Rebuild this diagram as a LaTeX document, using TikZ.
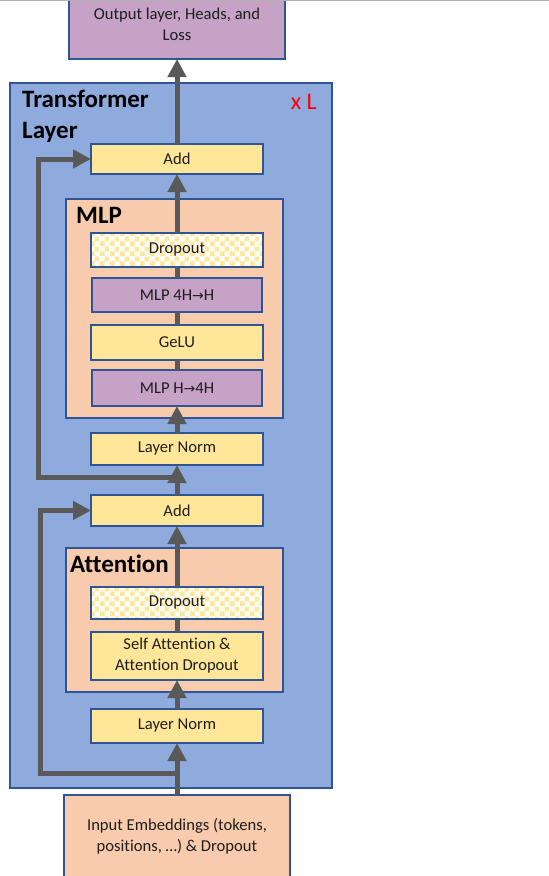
\documentclass[tikz,border=0pt]{standalone}
\usepackage{fontspec}
\setmainfont{Carlito}[Ligatures=CommonOff]
\newfontfamily\arrowfont{DejaVu Sans}
\usetikzlibrary{arrows.meta,positioning,fit,calc,backgrounds,patterns.meta}
\definecolor{layer}{HTML}{8FAADC}
\definecolor{edge}{HTML}{2F5597}
\definecolor{peach}{HTML}{F8CBAD}
\definecolor{sand}{HTML}{FFE699}
\definecolor{mauve}{HTML}{C5A2C6}
\definecolor{ink}{HTML}{1E1E1E}
\definecolor{pipe}{HTML}{595959}
\definecolor{xred}{HTML}{FF0000}
\tikzdeclarepattern{
  name=checker,
  tile size={(10pt,10pt)},
  bounding box={(0pt,0pt) and (10pt,10pt)},
  code={\fill (0pt,0pt) rectangle (5pt,5pt) (5pt,5pt) rectangle (10pt,10pt);}
}
\newcommand{\toarrow}{{\arrowfont\fontsize{14}{14}\selectfont →}}
\tikzset{
  every node/.style={text=ink,font=\fontsize{16.6}{21}\selectfont},
  plain/.style={draw=edge,line width=1.8pt,outer sep=0pt,minimum width=172pt,minimum height=32pt,align=center,inner sep=2pt},
  box/.style={plain,fill=sand},
  mlpbox/.style={plain,fill=mauve,minimum width=170pt},
  dropbox/.style={plain,preaction={fill=white},pattern=checker,pattern color=sand},
  group/.style={draw=edge,line width=1.8pt,outer sep=0pt,fill=peach,inner sep=0pt},
  title/.style={font=\fontsize{25}{31}\selectfont\bfseries,text=black,inner sep=0pt,align=left},
  flow/.style={-{Triangle[length=18pt,width=18pt]},line width=5pt,draw=pipe},
  link/.style={line width=5pt,draw=pipe},
}

\begin{document}
\begin{tikzpicture}[x=1pt,y=1pt]
\useasboundingbox (0,0) rectangle (549,-876);

% input and attention block
\node[box,fill=peach,minimum width=226pt,minimum height=82pt] (inp) at (177,-836) {Input Embeddings (tokens,\\ positions, …) \& Dropout};
\node[box,minimum height=34pt,above=52pt of inp] (lnBot) {Layer Norm};
\node[box,minimum height=48pt,inner ysep=0pt,above=29pt of lnBot] (sa) {Self Attention \&\\ Attention Dropout};
\node[dropbox,above=13pt of sa] (dropA) {Dropout};
\node[box,minimum height=31pt,above=61pt of dropA] (addBot) {Add};

% mlp block
\node[box,above=30pt of addBot] (lnTop) {Layer Norm};
\node[mlpbox,minimum height=36pt,above=27pt of lnTop] (up) {MLP H\toarrow4H};
\node[box,minimum height=35pt,above=10pt of up] (gelu) {GeLU};
\node[mlpbox,minimum height=34pt,above=13pt of gelu] (down) {MLP 4H\toarrow H};
\node[dropbox,minimum height=34pt,above=11pt of down] (dropM) {Dropout};
\node[box,minimum height=30pt,above=59pt of dropM] (addTop) {Add};
\node[box,fill=mauve,minimum width=216pt,minimum height=69pt,above=85pt of addTop] (out) {Output layer, Heads, and\\ Loss};

% containers
\begin{scope}[on background layer]
\node[group,fill=layer,fit={($(lnBot.south)+(-167,-45)$) ($(addTop.north)+(155,61)$)}] (tl) {};
\node[group,fit={($(sa.south west)+(-25,-12)$) ($(dropA.north east)+(20,39)$)}] (attn) {};
\node[group,fit={($(up.south west)+(-26,-12)$) ($(dropM.north east)+(20,34)$)}] (mlp) {};
\end{scope}
\node[title,anchor=north west] (tlName) at ($(tl.north west)+(12,-7)$) {Transformer\\Layer};
\node[font=\fontsize{24}{28}\selectfont,text=xred,inner sep=0pt,anchor=base east] (reps) at ($(tl.north east)+(-15,-26)$) {x L};
\node[title,anchor=base west] (mlpName) at ($(mlp.north west)+(10,-24)$) {MLP};
\node[title,anchor=base west] (attnName) at ($(attn.north west)+(4,-24)$) {Attention};

% main path
\draw[flow] (inp.north) -- (lnBot.south);
\draw[flow] (lnBot.north) -- (sa.south);
\draw[link] (sa.north) -- (dropA.south);
\draw[flow] (dropA.north) -- (addBot.south);
\draw[flow] (addBot.north) -- (lnTop.south);
\draw[flow] (lnTop.north) -- (up.south);
\draw[link] (up.north) -- (gelu.south);
\draw[link] (gelu.north) -- (down.south);
\draw[link] (down.north) -- (dropM.south);
\draw[flow] (dropM.north) -- (addTop.south);
\draw[flow] (addTop.north) -- (out.south);

% residual paths
\coordinate (tap1) at ($(inp.north)+(0,22)$);
\draw[flow] (tap1) -- ++(-137,0) |- (addBot.west);
\coordinate (tap2) at ($(addBot.north)+(0,18)$);
\draw[flow] (tap2) -- ++(-139,0) |- (addTop.west);

\draw[line width=1pt,draw=black!30] (0,-0.8) -- (549,-0.8);
\end{tikzpicture}
\end{document}
